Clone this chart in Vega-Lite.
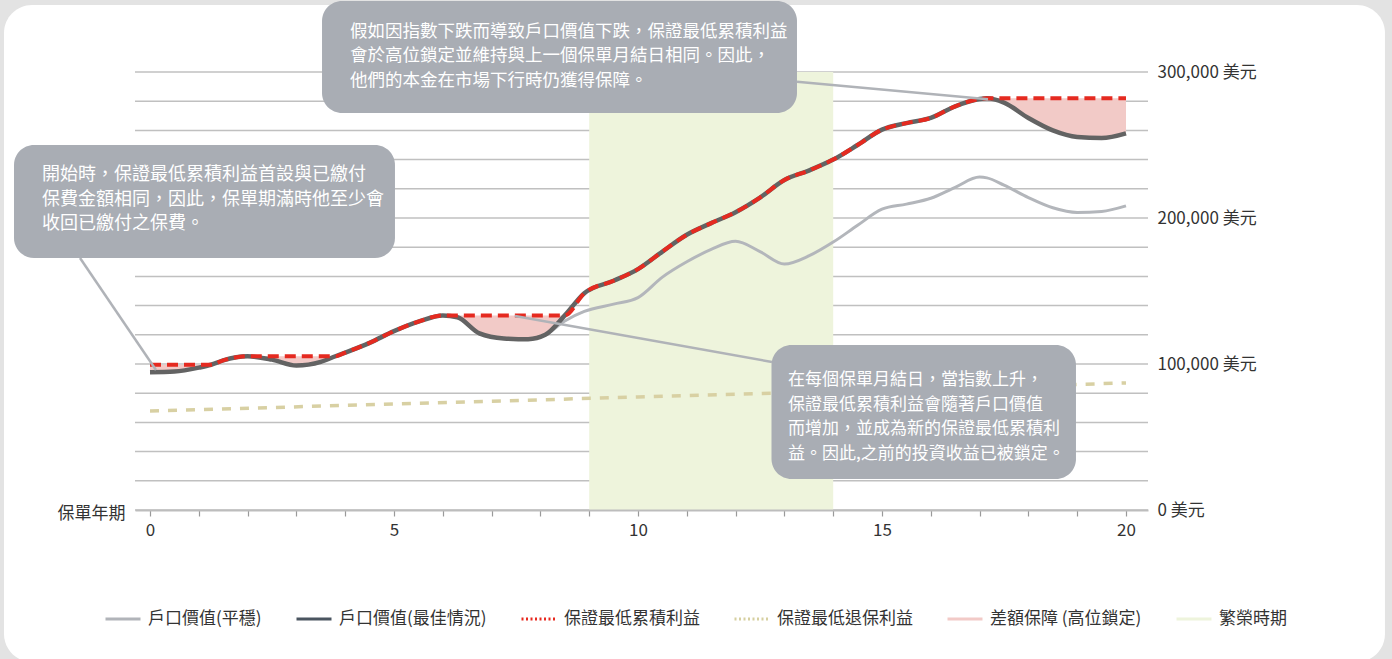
{
  "$schema": "https://vega.github.io/schema/vega-lite/v6.json",
  "width": 1013,
  "height": 438,
  "autosize": {"type": "none"},
  "padding": {"left": 135, "top": 72, "right": 244, "bottom": 149},
  "background": "#e3e3e3",
  "config": {"view": {"stroke": null}, "font": "Noto Sans CJK TC"},
  "datasets": {
    "main": [
      {"year": 0, "best": 94300, "guarantee": 99500, "smooth": 94300},
      {"year": 0.5, "best": 94800, "guarantee": 99500, "smooth": 94800},
      {"year": 1.0, "best": 97500, "guarantee": 99500, "smooth": 97500},
      {"year": 1.25, "best": 99500, "guarantee": 99500, "smooth": 99500},
      {"year": 1.5, "best": 102500, "guarantee": 102500, "smooth": 102500},
      {"year": 2.0, "best": 105300, "guarantee": 105300, "smooth": 105300},
      {"year": 2.5, "best": 103000, "guarantee": 105300, "smooth": 103000},
      {"year": 3.0, "best": 99000, "guarantee": 105300, "smooth": 99000},
      {"year": 3.5, "best": 101500, "guarantee": 105300, "smooth": 101500},
      {"year": 3.8, "best": 105300, "guarantee": 105300, "smooth": 105300},
      {"year": 4.0, "best": 107800, "guarantee": 107800, "smooth": 107800},
      {"year": 4.5, "best": 114500, "guarantee": 114500, "smooth": 114500},
      {"year": 5.0, "best": 122500, "guarantee": 122500, "smooth": 122500},
      {"year": 5.5, "best": 129000, "guarantee": 129000, "smooth": 129000},
      {"year": 6.0, "best": 133300, "guarantee": 133300, "smooth": 133300},
      {"year": 6.3, "best": 132000, "guarantee": 133300, "smooth": 132000},
      {"year": 6.75, "best": 121000, "guarantee": 133300, "smooth": 121000},
      {"year": 7.25, "best": 117500, "guarantee": 133300, "smooth": 117500},
      {"year": 7.75, "best": 117000, "guarantee": 133300, "smooth": 117000},
      {"year": 8.1, "best": 120000, "guarantee": 133300, "smooth": 120000},
      {"year": 8.5, "best": 133300, "guarantee": 133300, "smooth": 129500},
      {"year": 8.9, "best": 148500, "guarantee": 148500, "smooth": 136000},
      {"year": 9.5, "best": 157000, "guarantee": 157000, "smooth": 141000},
      {"year": 10.0, "best": 165000, "guarantee": 165000, "smooth": 145500},
      {"year": 10.5, "best": 177000, "guarantee": 177000, "smooth": 159500},
      {"year": 11.0, "best": 188500, "guarantee": 188500, "smooth": 170000},
      {"year": 11.5, "best": 196500, "guarantee": 196500, "smooth": 178500},
      {"year": 12.0, "best": 204000, "guarantee": 204000, "smooth": 184000},
      {"year": 12.5, "best": 214000, "guarantee": 214000, "smooth": 177000},
      {"year": 13.0, "best": 226000, "guarantee": 226000, "smooth": 168500},
      {"year": 13.5, "best": 232500, "guarantee": 232500, "smooth": 174000},
      {"year": 14.0, "best": 240000, "guarantee": 240000, "smooth": 183500},
      {"year": 14.5, "best": 250000, "guarantee": 250000, "smooth": 195000},
      {"year": 15.0, "best": 260500, "guarantee": 260500, "smooth": 206000},
      {"year": 15.5, "best": 265000, "guarantee": 265000, "smooth": 209500},
      {"year": 16.0, "best": 268500, "guarantee": 268500, "smooth": 213500},
      {"year": 16.5, "best": 276500, "guarantee": 276500, "smooth": 221000},
      {"year": 17.0, "best": 281500, "guarantee": 281500, "smooth": 228000},
      {"year": 17.15, "best": 282000, "guarantee": 282000, "smooth": 227500},
      {"year": 17.5, "best": 279000, "guarantee": 282000, "smooth": 222500},
      {"year": 18.0, "best": 268500, "guarantee": 282000, "smooth": 214000},
      {"year": 18.5, "best": 260000, "guarantee": 282000, "smooth": 207000},
      {"year": 19.0, "best": 255500, "guarantee": 282000, "smooth": 203800},
      {"year": 19.5, "best": 254800, "guarantee": 282000, "smooth": 204500},
      {"year": 20.0, "best": 258000, "guarantee": 282000, "smooth": 208300}
    ],
    "surrender": [
      {"year": 0, "value": 67800},
      {"year": 5, "value": 72600},
      {"year": 10, "value": 77400},
      {"year": 15, "value": 82200},
      {"year": 20, "value": 87000}
    ],
    "grid": [
      {"v": 0}, {"v": 20000}, {"v": 40000}, {"v": 60000}, {"v": 80000}, {"v": 100000},
      {"v": 120000}, {"v": 140000}, {"v": 160000}, {"v": 180000}, {"v": 200000},
      {"v": 220000}, {"v": 240000}, {"v": 260000}, {"v": 280000}, {"v": 300000}
    ],
    "boom": [{"start": 9, "end": 14}],
    "legend": [
      {"name": "戶口價值(平穩)"},
      {"name": "戶口價值(最佳情況)"},
      {"name": "保證最低累積利益"},
      {"name": "保證最低退保利益"},
      {"name": "差額保障 (高位鎖定)"},
      {"name": "繁榮時期"}
    ]
  },
  "layer": [
    {
      "data": {"values": [{}]},
      "mark": {"type": "rect", "fill": "#ffffff", "cornerRadius": 28},
      "encoding": {
        "x": {
          "datum": -2.992, "type": "quantitative",
          "scale": {"domain": [-0.3074, 20.451], "nice": false, "zero": false},
          "axis": {
            "values": [0,1,2,3,4,5,6,7,8,9,10,11,12,13,14,15,16,17,18,19,20],
            "labelExpr": "datum.value % 5 === 0 ? datum.label : ''",
            "title": "保單年期", "titleX": -10, "titleY": 3, "titleAlign": "right",
            "titleAngle": 0, "titleBaseline": "middle", "titleFontWeight": "normal",
            "titleFontSize": 17, "titleColor": "#333333", "titleFont": "Noto Sans CJK TC",
            "grid": false, "domainColor": "#bdbdbd", "domainWidth": 2,
            "tickColor": "#9a9a9a", "tickSize": 6, "tickWidth": 1.2,
            "labelFontSize": 17, "labelColor": "#333333", "labelPadding": 6,
            "labelFont": "Noto Sans CJK TC", "labelOverlap": false, "labelFlush": false,
            "zindex": 1
          }
        },
        "x2": {"datum": 25.307},
        "y": {
          "datum": 345890, "type": "quantitative",
          "scale": {"domain": [0, 300000], "nice": false, "zero": false},
          "axis": {
            "orient": "right", "title": null,
            "values": [0, 100000, 200000, 300000],
            "labelExpr": "datum.value === 0 ? '0 美元' : format(datum.value, ',') + ' 美元'",
            "grid": false, "domain": false, "ticks": false, "labelPadding": 9,
            "labelFontSize": 17, "labelColor": "#333333", "labelFont": "Noto Sans CJK TC",
            "labelBaseline": "middle", "labelOverlap": false, "labelFlush": false, "zindex": 1
          }
        },
        "y2": {"datum": -104110}
      }
    },
    {
      "data": {"name": "grid"},
      "mark": {"type": "rule", "color": "#c0c0c0", "strokeWidth": 1.5},
      "encoding": {"y": {"field": "v", "type": "quantitative"}}
    },
    {
      "data": {"name": "boom"},
      "mark": {"type": "rect", "color": "#eef4dc"},
      "encoding": {
        "x": {"field": "start", "type": "quantitative"},
        "x2": {"field": "end"},
        "y": {"datum": 0, "type": "quantitative"},
        "y2": {"datum": 300000}
      }
    },
    {
      "data": {"name": "main"},
      "mark": {"type": "area", "color": "#f2cac7", "interpolate": "monotone"},
      "encoding": {
        "x": {"field": "year", "type": "quantitative"},
        "y": {"field": "best", "type": "quantitative"},
        "y2": {"field": "guarantee"}
      }
    },
    {
      "data": {"name": "surrender"},
      "mark": {"type": "line", "color": "#d8d0a3", "strokeWidth": 3.5, "strokeDash": [9, 9]},
      "encoding": {
        "x": {"field": "year", "type": "quantitative"},
        "y": {"field": "value", "type": "quantitative"}
      }
    },
    {
      "data": {"name": "main"},
      "mark": {"type": "line", "color": "#b3b6bb", "strokeWidth": 3, "interpolate": "monotone"},
      "encoding": {
        "x": {"field": "year", "type": "quantitative"},
        "y": {"field": "smooth", "type": "quantitative"}
      }
    },
    {
      "data": {"name": "main"},
      "mark": {"type": "line", "color": "#636363", "strokeWidth": 4.5, "interpolate": "monotone"},
      "encoding": {
        "x": {"field": "year", "type": "quantitative"},
        "y": {"field": "best", "type": "quantitative"}
      }
    },
    {
      "data": {"name": "main"},
      "mark": {"type": "line", "color": "#e52a20", "strokeWidth": 4, "strokeDash": [11, 6], "interpolate": "monotone"},
      "encoding": {
        "x": {"field": "year", "type": "quantitative"},
        "y": {"field": "guarantee", "type": "quantitative"}
      }
    },
    {
      "data": {"values": [{}]},
      "mark": {"type": "rule", "color": "#b0b3b8", "strokeWidth": 2.5},
      "encoding": {
        "x": {"datum": -1.434, "type": "quantitative"}, "y": {"datum": 172603, "type": "quantitative"},
        "x2": {"datum": 0.123}, "y2": {"datum": 95890}
      }
    },
    {
      "data": {"values": [{}]},
      "mark": {"type": "rule", "color": "#b0b3b8", "strokeWidth": 2.5},
      "encoding": {
        "x": {"datum": 13.258, "type": "quantitative"}, "y": {"datum": 293356, "type": "quantitative"},
        "x2": {"datum": 17.172}, "y2": {"datum": 281301}
      }
    },
    {
      "data": {"values": [{}]},
      "mark": {"type": "rule", "color": "#b0b3b8", "strokeWidth": 2.5},
      "encoding": {
        "x": {"datum": 7.48, "type": "quantitative"}, "y": {"datum": 132877, "type": "quantitative"},
        "x2": {"datum": 12.746}, "y2": {"datum": 101370}
      }
    },
    {
      "data": {"values": [{}]},
      "mark": {"type": "rect", "color": "#a9adb4", "cornerRadius": 20},
      "encoding": {
        "x": {"datum": -2.787, "type": "quantitative"}, "x2": {"datum": 5.02},
        "y": {"datum": 250000, "type": "quantitative"}, "y2": {"datum": 172603}
      }
    },
    {
      "data": {"values": [{}]},
      "mark": {"type": "rect", "color": "#a9adb4", "cornerRadius": 20},
      "encoding": {
        "x": {"datum": 3.525, "type": "quantitative"}, "x2": {"datum": 13.258},
        "y": {"datum": 348630, "type": "quantitative"}, "y2": {"datum": 271918}
      }
    },
    {
      "data": {"values": [{}]},
      "mark": {"type": "rect", "color": "#a9adb4", "cornerRadius": 20},
      "encoding": {
        "x": {"datum": 12.736, "type": "quantitative"}, "x2": {"datum": 18.975},
        "y": {"datum": 113014, "type": "quantitative"}, "y2": {"datum": 21233}
      }
    },
    {
      "data": {"values": [{}]},
      "mark": {"type": "text", "color": "#ffffff", "fontSize": 18, "align": "left", "baseline": "middle", "lineHeight": 24.5, "font": "Noto Sans CJK TC"},
      "encoding": {
        "x": {"datum": -2.213, "type": "quantitative"},
        "y": {"datum": 229452, "type": "quantitative"},
        "text": {"value": ["開始時，保證最低累積利益首設與已繳付", "保費金額相同，因此，保單期滿時他至少會", "收回已繳付之保費。"]}
      }
    },
    {
      "data": {"values": [{}]},
      "mark": {"type": "text", "color": "#ffffff", "fontSize": 17.5, "align": "left", "baseline": "middle", "lineHeight": 24.7, "font": "Noto Sans CJK TC"},
      "encoding": {
        "x": {"datum": 4.098, "type": "quantitative"},
        "y": {"datum": 327603, "type": "quantitative"},
        "text": {"value": ["假如因指數下跌而導致戶口價值下跌，保證最低累積利益", "會於高位鎖定並維持與上一個保單月結日相同。因此，", "他們的本金在市場下行時仍獲得保障。"]}
      }
    },
    {
      "data": {"values": [{}]},
      "mark": {"type": "text", "color": "#ffffff", "fontSize": 17, "align": "left", "baseline": "middle", "lineHeight": 24.5, "font": "Noto Sans CJK TC"},
      "encoding": {
        "x": {"datum": 13.074, "type": "quantitative"},
        "y": {"datum": 89041, "type": "quantitative"},
        "text": {"value": ["在每個保單月結日，當指數上升，", "保證最低累積利益會隨著戶口價值", "而增加，並成為新的保證最低累積利", "益。因此,之前的投資收益已被鎖定。"]}
      }
    },
    {
      "data": {"name": "legend"},
      "mark": {"type": "point", "opacity": 0},
      "encoding": {
        "color": {
          "field": "name", "type": "nominal",
          "scale": {
            "domain": ["戶口價值(平穩)", "戶口價值(最佳情況)", "保證最低累積利益", "保證最低退保利益", "差額保障 (高位鎖定)", "繁榮時期"],
            "range": ["#b1b4b9", "#4a5560", "#e8281e", "#d6cfa0", "#f2cac7", "#eef4dc"]
          },
          "legend": {
            "orient": "none", "legendX": -31, "legendY": 528, "direction": "horizontal",
            "columns": 6, "title": null, "symbolType": "stroke", "symbolSize": 1225,
            "symbolStrokeWidth": 3, "labelOffset": 6, "columnPadding": 28,
            "labelFontSize": 17, "labelColor": "#333333", "labelFont": "Noto Sans CJK TC",
            "labelLimit": 400, "padding": 0, "zindex": 1,
            "encode": {
              "symbols": {
                "update": {
                  "shape": {"signal": "datum.value === '差額保障 (高位鎖定)' || datum.value === '繁榮時期' ? 'M-1,-0.38H1V0.38H-1Z' : 'stroke'"},
                  "fill": {"signal": "datum.value === '差額保障 (高位鎖定)' ? '#f2cac7' : datum.value === '繁榮時期' ? '#eaf2d6' : 'transparent'"},
                  "stroke": {"signal": "datum.value === '戶口價值(平穩)' ? '#b1b4b9' : datum.value === '戶口價值(最佳情況)' ? '#4a5560' : datum.value === '保證最低累積利益' ? '#e8281e' : datum.value === '保證最低退保利益' ? '#d6cfa0' : 'transparent'"},
                  "opacity": {"value": 1},
                  "fillOpacity": {"value": 1},
                  "strokeOpacity": {"value": 1},
                  "strokeWidth": {"value": 3},
                  "size": {"value": 1225}
                }
              }
            }
          }
        },
        "strokeDash": {
          "field": "name", "type": "nominal",
          "scale": {
            "domain": ["戶口價值(平穩)", "戶口價值(最佳情況)", "保證最低累積利益", "保證最低退保利益", "差額保障 (高位鎖定)", "繁榮時期"],
            "range": [[1, 0], [1, 0], [2, 2.5], [2, 2.5], [1, 0], [1, 0]]
          }
        }
      }
    }
  ]
}
